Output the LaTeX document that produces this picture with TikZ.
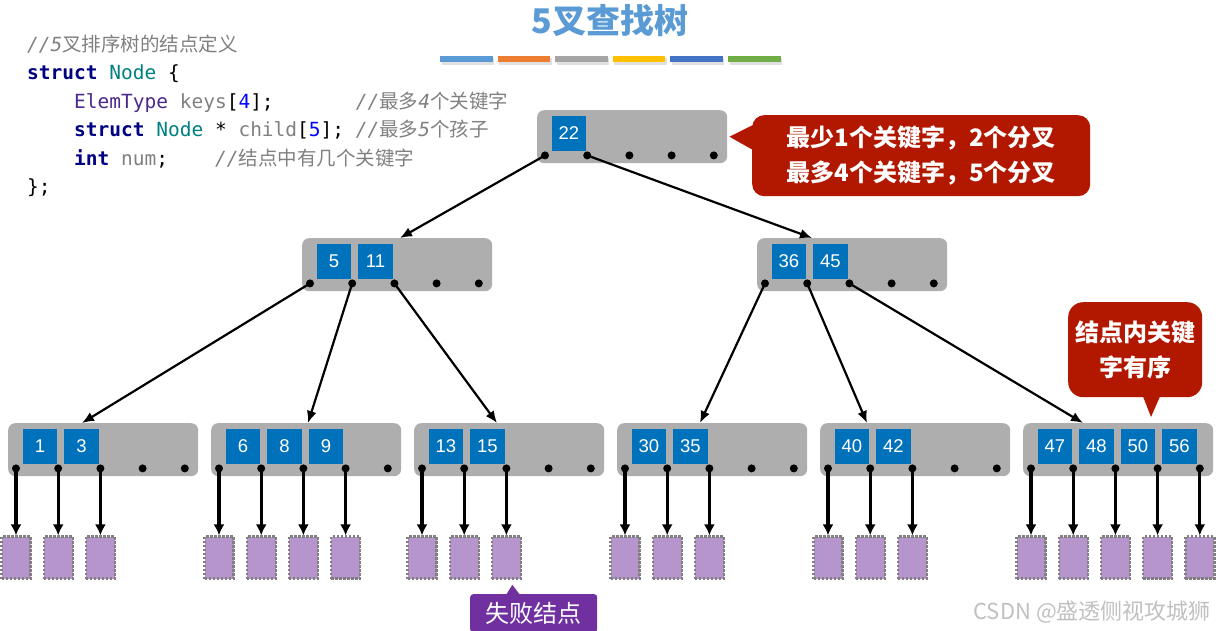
\documentclass[tikz,border=0pt]{standalone}
\usepackage{fontspec}
\setmainfont{Liberation Sans}
\setmonofont{DejaVu Sans Mono}
\newfontfamily\cjk{Noto Sans CJK SC}
\usetikzlibrary{arrows.meta,calc}

\definecolor{boxgray}{RGB}{174,174,174}
\definecolor{keyblue}{RGB}{0,114,187}
\definecolor{failpurple}{RGB}{181,149,204}
\definecolor{dashgray}{RGB}{128,128,128}
\definecolor{notered}{RGB}{178,24,0}
\definecolor{notepurple}{RGB}{112,48,160}
\definecolor{titleblue}{RGB}{91,155,213}
\definecolor{wmgray}{RGB}{192,192,192}
\definecolor{kwnavy}{RGB}{0,0,128}
\definecolor{tyteal}{RGB}{0,128,128}
\definecolor{tppurple}{RGB}{75,40,140}
\definecolor{codegray}{RGB}{128,128,128}
\definecolor{numblue}{RGB}{0,0,255}
\definecolor{bar1}{RGB}{91,155,213}
\definecolor{bar2}{RGB}{237,125,49}
\definecolor{bar3}{RGB}{165,165,165}
\definecolor{bar4}{RGB}{255,192,0}
\definecolor{bar5}{RGB}{68,114,196}
\definecolor{bar6}{RGB}{112,173,71}

\newcommand{\codekw}[1]{\textcolor{kwnavy}{\bfseries#1}}
\newcommand{\codety}[1]{\textcolor{tyteal}{#1}}
\newcommand{\codetp}[1]{\textcolor{tppurple}{#1}}
\newcommand{\codevr}[1]{\textcolor{codegray}{#1}}
\newcommand{\codenm}[1]{\textcolor{numblue}{#1}}
\newcommand{\codecm}[1]{\textcolor{codegray}{\itshape#1}}
\newcommand{\codecjk}[1]{\textcolor{codegray}{\cjk#1}}

% one node of the tree: name, left, top, keys, entry offset
\newcommand{\bnode}[5]{%
  \node[bbox] (#1) at (#2,#3) {};
  \coordinate (#1-in) at ($(#1.north west)+(#5,0)$);
  \foreach \k [count=\i] in {#4}
    \node[bkey] (#1-k\i) at ($(#1.north west)+({14.5+41.5*(\i-1)},6)$) {\k};
  \foreach \j in {1,...,5}
    \node[ptr] (#1-p\j) at ($(#1.south west)+({8+42.2*(\j-1)},-8)$) {};
}

\begin{document}
\begin{tikzpicture}[x=1pt, y=-1pt,
    bbox/.style={fill=boxgray, rounded corners=7pt, minimum width=190pt, minimum height=53pt, inner sep=0pt, anchor=north west},
    bkey/.style={fill=keyblue, text=white, minimum size=34.5pt, inner sep=0pt, anchor=north west, font=\fontsize{18.5}{18}\selectfont},
    ptr/.style={circle, fill=black, inner sep=0pt, minimum size=8pt},
    fail/.style={fill=failpurple, draw=dashgray, dash pattern=on 2.5pt off 1.5pt, line width=2.4pt, minimum width=29pt, minimum height=42pt, inner sep=0pt, anchor=north},
    tedge/.style={-{Latex[length=12pt,width=10pt]}, line width=2.2pt},
    fedge/.style={-{Latex[length=11pt,width=11pt]}, line width=3.2pt},
    code/.style={anchor=base west, inner sep=0pt, font=\ttfamily\fontsize{19.5}{24}\selectfont},
    rednote/.style={fill=notered, text=white, align=center, inner sep=0pt, anchor=north west, font=\cjk\bfseries\fontsize{24}{35}\selectfont}]
  \useasboundingbox (0,0) rectangle (1218,631);

  % title and colour bars
  \node[font=\cjk\bfseries\fontsize{34}{34}\selectfont, text=titleblue] (title) at (610,21) {5叉查找树};
  \foreach \c [count=\i] in {bar1,bar2,bar3,bar4,bar5,bar6} {
    \fill[black!12] ({441.5+57.6*(\i-1)},58.5) rectangle +(52.5,6.5);
    \fill[\c] ({440+57.6*(\i-1)},56) rectangle +(52.5,6.5);
  }

  % node definition
  \node[code] (c1) at (27,51.5) {\codecm{//5}\codecjk{叉排序树的结点定义}};
  \node[code] (c2) at (27,80) {\codekw{struct} \codety{Node} \{};
  \node[code] (c3) at (27,108.5) {~~~~\codetp{ElemType} \codevr{keys}[\codenm{4}];~~~~~~~\codecm{//}\codecjk{最多}\codecm{4}\codecjk{个关键字}};
  \node[code] (c4) at (27,137) {~~~~\codekw{struct} \codety{Node} * \codevr{child}[\codenm{5}]; \codecm{//}\codecjk{最多}\codecm{5}\codecjk{个孩子}};
  \node[code] (c5) at (27,165.5) {~~~~\codekw{int} \codevr{num};~~~~\codecm{//}\codecjk{结点中有几个关键字}};
  \node[code] (c6) at (27,194) {\};};

  % the tree
  \bnode{n22}{537}{110}{22}{0}
  \bnode{n5}{302}{238}{5,11}{98}
  \bnode{n36}{757}{238}{36,45}{55}
  \bnode{n1}{8}{423}{1,3}{74}
  \bnode{n6}{211}{423}{6,8,9}{97}
  \bnode{n13}{414}{423}{13,15}{83}
  \bnode{n30}{617}{423}{30,35}{83}
  \bnode{n40}{820}{423}{40,42}{47}
  \bnode{n47}{1023}{423}{47,48,50,56}{60}

  \draw[tedge] (n22-p1.center) -- (n5-in);
  \draw[tedge] (n22-p2.center) -- (n36-in);
  \draw[tedge] (n5-p1.center) -- (n1-in);
  \draw[tedge] (n5-p2.center) -- (n6-in);
  \draw[tedge] (n5-p3.center) -- (n13-in);
  \draw[tedge] (n36-p1.center) -- (n30-in);
  \draw[tedge] (n36-p2.center) -- (n40-in);
  \draw[tedge] (n36-p3.center) -- (n47-in);

  % failure nodes
  \foreach \b/\n in {n1/3,n6/4,n13/3,n30/3,n40/3,n47/5}
    \foreach \j in {1,...,\n} {
      \node[fail] (\b-f\j) at ($(\b-p\j)+(0,67)$) {};
      \draw[fedge] (\b-p\j.center) -- (\b-f\j.north);
    }

  % notes
  \node[rednote, rounded corners=12pt, minimum width=338pt, minimum height=81pt] (note1) at (752,115) {最少1个关键字，2个分叉\\最多4个关键字，5个分叉};
  \fill[notered] ($(note1.north west)+(1,10)$) -- ($(n22.east)+(2,0)$) -- ($(note1.north west)+(1,35)$) -- cycle;

  \node[rednote, rounded corners=15pt, minimum width=134pt, minimum height=95pt] (note2) at (1068,302) {结点内关键\\字有序};
  \fill[notered] ($(note2.south west)+(75,-1)$) -- ($(n47.north west)+(128,-6)$) -- ($(note2.south west)+(92,-1)$) -- cycle;

  \node[fill=notepurple, text=white, rounded corners=3pt, inner sep=0pt, anchor=north west, minimum width=127pt, minimum height=38pt, font=\cjk\fontsize{24}{24}\selectfont] (note3) at (470,594) {失败结点};
  \fill[notepurple] ($(note3.north west)+(36,1)$) -- ($(n13-f3.south)+(6,5)$) -- ($(note3.north west)+(50,1)$) -- cycle;

  % watermark
  \node[anchor=east, inner sep=0pt, text=wmgray, font=\cjk\fontsize{22}{22}\selectfont] (wm) at (1211,612) {CSDN @盛透侧视攻城狮};
\end{tikzpicture}
\end{document}
